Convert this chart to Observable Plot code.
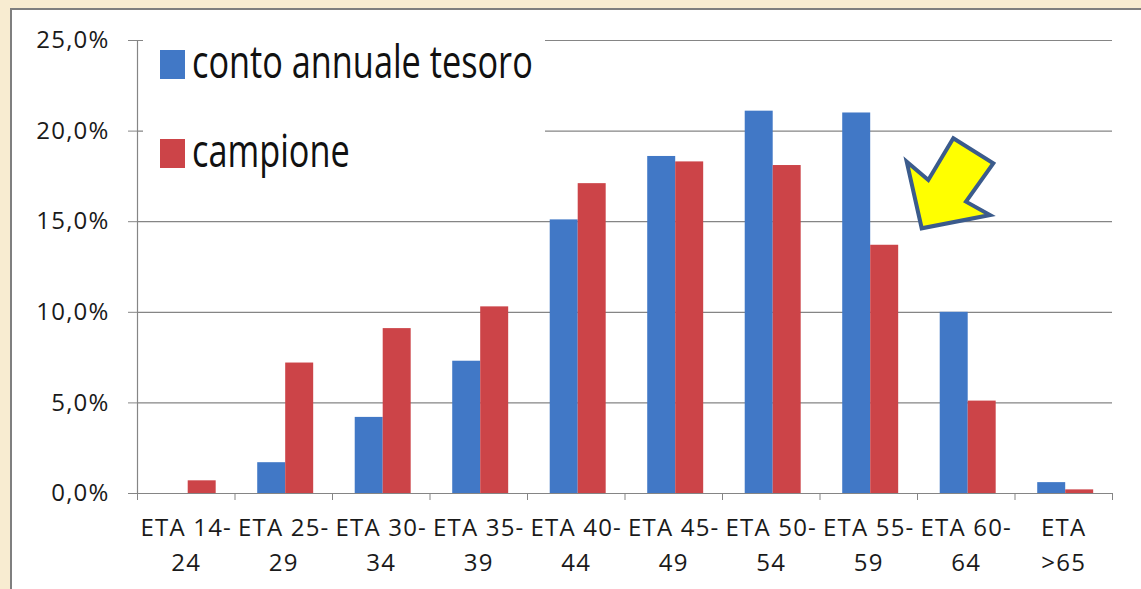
<!DOCTYPE html>
<html><head><meta charset="utf-8">
<script src="https://cdn.jsdelivr.net/npm/d3@7"></script>
<script src="https://cdn.jsdelivr.net/npm/@observablehq/plot@0.6"></script>
<style>
body{margin:0;background:#f8ecd1;width:1141px;height:589px;overflow:hidden;position:relative;font-family:"Open Sans",sans-serif}
#panel{position:absolute;left:10px;top:8px;width:1131px;height:581px;background:#fff;border-top:2px solid #7f7f7f;border-left:2px solid #7f7f7f;box-sizing:border-box}
#chart{position:absolute;left:0;top:0}
#legend{position:absolute;left:143px;top:33px;width:402px;height:160px;background:#fff}
.sw{position:absolute;left:17px;width:25px;height:29px}
.lt{position:absolute;left:49px;font-size:46px;line-height:1;white-space:nowrap;transform:scaleX(0.745);transform-origin:left center;color:#111}
#arrow{position:absolute;left:0;top:0}
</style></head>
<body>
<div id="panel"></div>
<div id="chart"></div>
<div id="legend"></div>
<svg id="arrow" width="1141" height="589"><polygon points="953.3,138.3 993.3,163.3 966,201.7 990,215 921.7,228.3 906.7,161.7 928.3,180" fill="#ffff00" stroke="#3b5b8c" stroke-width="4" stroke-linejoin="miter"/></svg>
<script>
const categories = ["ETA 14-24","ETA 25-29","ETA 30-34","ETA 35-39","ETA 40-44","ETA 45-49","ETA 50-54","ETA 55-59","ETA 60-64","ETA >65"];
const contoAnnualeTesoro = [0, 1.7, 4.2, 7.3, 15.1, 18.6, 21.1, 21.0, 10.0, 0.6];
const campione = [0.7, 7.2, 9.1, 10.3, 17.1, 18.3, 18.1, 13.7, 5.1, 0.2];
const yTicks = [0, 5, 10, 15, 20, 25];
const seriesNames = ["conto annuale tesoro", "campione"];
const seriesColors = ["#4178c6", "#cc4448"];

const bw = 0.287; // bar width in category units
const rows = [];
categories.forEach((c, i) => {
  rows.push({i, cat: c, s: 0, value: contoAnnualeTesoro[i]});
  rows.push({i, cat: c, s: 1, value: campione[i]});
});
const splitLabel = (c) => {
  const h = c.indexOf("-");
  if (h >= 0) return c.slice(0, h + 1) + "\n" + c.slice(h + 1);
  const sp = c.indexOf(" ");
  return c.slice(0, sp) + "\n" + c.slice(sp + 1);
};
const fmt = d => d.toFixed(1).replace(".", ",") + "%";
const gray = "#858585";

const chart = Plot.plot({
  width: 1141, height: 589,
  marginLeft: 137, marginRight: 29, marginTop: 40, marginBottom: 96,
  style: {background: "transparent", fontFamily: "'Open Sans', sans-serif", fontSize: "24px", color: "#1a1a1a", letterSpacing: "1.2px"},
  x: {type: "linear", domain: [0, categories.length], axis: null},
  y: {domain: [0, 25], axis: null},
  marks: [
    Plot.ruleY(yTicks, {stroke: gray, strokeWidth: 1.2}),
    Plot.rectY(rows, {
      x1: d => d.i + 0.52 + (d.s === 0 ? -bw : 0),
      x2: d => d.i + 0.52 + (d.s === 0 ? 0 : bw),
      y: "value",
      fill: d => seriesColors[d.s]
    }),
    Plot.ruleX([0], {y1: 0, y2: 25, stroke: gray, strokeWidth: 1.2}),
    Plot.ruleY([0], {stroke: gray, strokeWidth: 1.2}),
    Plot.axisY({ticks: yTicks, tickSize: 9, tickPadding: 19, tickFormat: fmt, label: null, stroke: gray, fill: "#1a1a1a"}),
    Plot.axisX({ticks: d3.range(categories.length + 1), tickSize: 7, tickFormat: () => "", label: null, stroke: gray}),
    Plot.text(categories, {
      x: (d, i) => i + 0.5,
      frameAnchor: "bottom",
      dy: 18,
      lineAnchor: "top",
      lineHeight: 1.45,
      text: splitLabel,
      fill: "#1a1a1a"
    })
  ]
});
document.getElementById("chart").appendChild(chart);

const legend = document.getElementById("legend");
const tops = [17, 106], textTops = [4, 93];
seriesNames.forEach((n, k) => {
  const sw = document.createElement("div");
  sw.className = "sw"; sw.style.top = tops[k] + "px"; sw.style.background = seriesColors[k];
  legend.appendChild(sw);
  const t = document.createElement("div");
  t.className = "lt"; t.style.top = textTops[k] + "px"; t.textContent = n;
  legend.appendChild(t);
});
</script>
</body></html>
